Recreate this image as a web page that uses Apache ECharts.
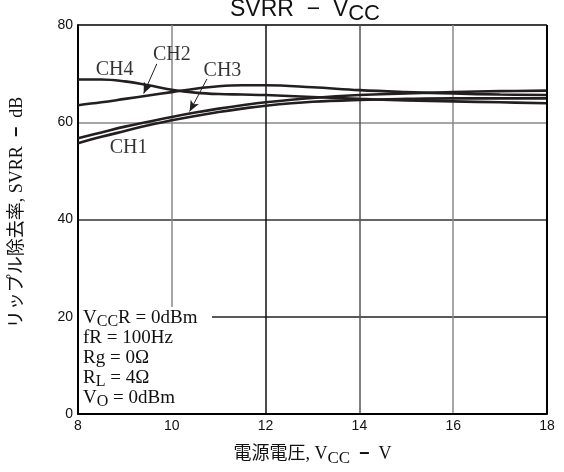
<!DOCTYPE html>
<html>
<head>
<meta charset="utf-8">
<script src="https://cdn.jsdelivr.net/npm/echarts@6/dist/echarts.min.js"></script>
<style>html,body{margin:0;padding:0;background:#fff}#c{width:564px;height:472px}</style>
</head>
<body>
<div id="c"></div>
<script>
// ---- data ----
const vcc = [8, 8.5, 9, 9.5, 10, 10.5, 11, 11.5, 12, 13, 14, 15, 16, 17, 18];
const ch1 = [55.7, 57.0, 58.2, 59.4, 60.4, 61.3, 62.1, 62.8, 63.4, 64.2, 64.6, 64.8, 64.9, 64.9, 64.9];
const ch2 = [63.5, 64.1, 64.8, 65.5, 66.2, 66.9, 67.4, 67.6, 67.6, 67.2, 66.6, 66.2, 65.9, 65.7, 65.6];
const ch3 = [56.7, 57.9, 59.1, 60.1, 61.1, 62.0, 62.8, 63.5, 64.1, 65.0, 65.6, 65.9, 66.2, 66.4, 66.5];
const ch4 = [68.8, 68.8, 68.4, 67.6, 66.7, 66.1, 65.8, 65.7, 65.6, 65.2, 64.8, 64.5, 64.3, 64.1, 63.9];
const xTicks = [8, 10, 12, 14, 16, 18];
const yTicks = [0, 20, 40, 60, 80];
// label anchors (data coords)
const labelNames = ['CH4', 'CH2', 'CH3', 'CH1'];
const labelPos = [[8.78, 70.8], [10.0, 73.8], [11.08, 70.5], [9.08, 54.8]];
// arrows (data coords): from -> to
const arrowCH2 = [[9.68, 72.0], [9.40, 65.9]];
const arrowCH3 = [[10.75, 68.9], [10.38, 62.2]];

const LINE = '#231f20';
const SERIF = '"Liberation Serif","Times New Roman",serif';
const SANS = '"Liberation Sans",Arial,sans-serif';

function pairs(arr) { return vcc.map((v, i) => [v, arr[i]]); }

const chart = echarts.init(document.getElementById('c'), null, { renderer: 'canvas' });

const series = [ch1, ch2, ch3, ch4].map((arr, i) => ({
  type: 'line',
  name: 'CH' + (i + 1),
  data: pairs(arr),
  smooth: 0.4,
  symbol: 'none',
  lineStyle: { color: LINE, width: 2.6 },
  z: 5
}));

series.push({
  type: 'scatter',
  data: labelPos.map((p, i) => ({ value: p, name: labelNames[i] })),
  symbolSize: 0,
  silent: true,
  label: {
    show: true, position: 'inside', formatter: p => p.name,
    fontFamily: SERIF, fontSize: 20, color: '#000',
    textBorderWidth: 0, textBorderColor: 'transparent'
  },
  markLine: {
    silent: true,
    symbol: ['none', 'arrow'],
    symbolSize: [7, 11],
    label: { show: false },
    lineStyle: { color: LINE, width: 1, type: 'solid' },
    data: [
      [{ coord: arrowCH2[0] }, { coord: arrowCH2[1] }],
      [{ coord: arrowCH3[0] }, { coord: arrowCH3[1] }]
    ]
  },
  z: 6
});

const option = {
  backgroundColor: '#fff',
  animation: false,
  grid: { left: 77, right: 17, top: 25, bottom: 58, show: false },
  xAxis: {
    type: 'value', min: 8, max: 18, interval: 2,
    axisLine: { show: true, lineStyle: { color: '#000', width: 2 } },
    axisTick: { show: false },
    axisLabel: { color: '#111', fontFamily: SANS, fontSize: 14, margin: 5, formatter: v => xTicks.includes(v) ? String(v) : '' },
    splitLine: { show: true, lineStyle: { color: ['#000', '#888', '#111', '#555', '#888', '#000'], width: 1.5 } },
    name: '{j|電源電圧, V}{s|CC}{j|  }{m|−}{j|  V}',
    nameLocation: 'middle', nameGap: 28,
    nameTextStyle: {
      rich: {
        j: { fontFamily: SERIF + ',"Noto Sans CJK JP"', fontSize: 18, color: '#111', lineHeight: 24 },
        s: { fontFamily: SERIF, fontSize: 17, color: '#111', padding: [9, 0, 0, 0], lineHeight: 24 },
        m: { fontFamily: SANS, fontSize: 18, color: '#111', fontWeight: 'bold', lineHeight: 24 }
      }
    }
  },
  yAxis: {
    type: 'value', min: 0, max: 80, interval: 20,
    axisLine: { show: true, lineStyle: { color: '#000', width: 2 } },
    axisTick: { show: false },
    axisLabel: { color: '#111', fontFamily: SANS, fontSize: 14, margin: 5, formatter: v => yTicks.includes(v) ? String(v) : '' },
    splitLine: { show: true, lineStyle: { color: ['#000', '#222', '#333', '#888', '#000'], width: 1.5 } },
    name: '{j|リップル除去率, SVRR  }{m|−}{j|  dB}',
    nameLocation: 'middle', nameGap: 52,
    nameTextStyle: {
      padding: [0, 0, 0, 14],
      rich: {
        j: { fontFamily: SERIF + ',"Noto Sans CJK JP"', fontSize: 18, color: '#111' },
        m: { fontFamily: SANS, fontSize: 18, color: '#111', fontWeight: 'bold' }
      }
    }
  },
  graphic: [
    {
      type: 'line', shape: { x1: 547, y1: 25, x2: 547, y2: 414 },
      style: { stroke: '#000', lineWidth: 2 }, z: 10
    },
    {
      type: 'text', left: 230, top: -2,
      style: {
        text: '{n|SVRR  −  V}{s|CC}',
        rich: {
          n: { fontFamily: SANS, fontSize: 23, fill: '#111' },
          s: { fontFamily: SANS, fontSize: 22, fill: '#111', padding: [8, 0, 0, 0] }
        }
      }
    },
    {
      type: 'rect', shape: { x: 79, y: 307, width: 133, height: 106 },
      style: { fill: '#fff' }, z: 20
    },
    {
      type: 'text', x: 83, y: 308, z: 21,
      style: {
        text: '{n|V}{s|CC}{n|R = 0dBm}\n{n|fR = 100Hz}\n{n|Rg = 0Ω}\n{n|R}{s|L}{n| = 4Ω}\n{n|V}{s|O}{n| = 0dBm}',
        rich: {
          n: { fontFamily: SERIF, fontSize: 19, fill: '#111', lineHeight: 20 },
          s: { fontFamily: SERIF, fontSize: 16, fill: '#111', lineHeight: 20, padding: [7, 0, 0, 0] }
        }
      }
    }
  ],
  series: series
};
chart.setOption(option);
</script>
</body>
</html>
